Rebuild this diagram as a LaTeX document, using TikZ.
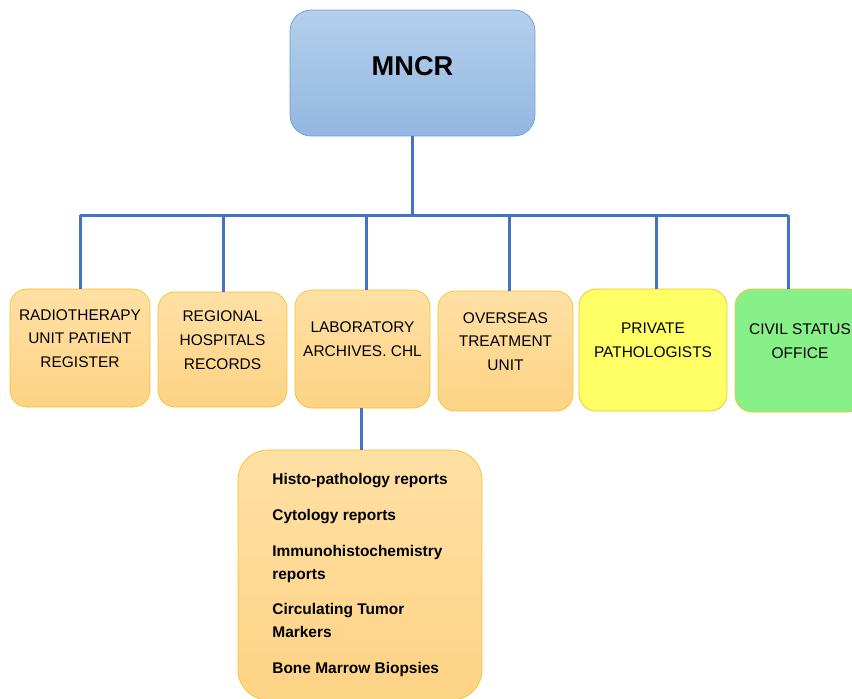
\documentclass[tikz,border=0pt]{standalone}
\usepackage{fontspec}
\setmainfont{Liberation Sans}
\usetikzlibrary{positioning}
\definecolor{BusBlue}{RGB}{68,114,196}
\definecolor{TopEdge}{RGB}{105,155,215}
\definecolor{TopFillA}{RGB}{180,207,235}
\definecolor{TopFillB}{RGB}{147,183,226}
\definecolor{SrcEdge}{RGB}{246,192,40}
\definecolor{SrcFillA}{RGB}{255,224,164}
\definecolor{SrcFillB}{RGB}{253,211,132}
\definecolor{PrivFill}{RGB}{255,255,102}
\definecolor{CivilFill}{RGB}{136,240,136}

\begin{document}
\begin{tikzpicture}[
        x=0.02cm, y=-0.02cm,
        topbox/.style={
            rectangle,
            rounded corners=0.42cm,
            draw=TopEdge,
            top color=TopFillA,
            bottom color=TopFillB,
            minimum width=4.9cm,
            minimum height=2.52cm,
            text depth=0.28cm,
            font=\fontsize{15.5}{18}\selectfont\bfseries
        },
        srcbox/.style={
            rectangle,
            rounded corners=0.34cm,
            draw=SrcEdge,
            top color=SrcFillA,
            bottom color=SrcFillB,
            align=center,
            minimum height=2.36cm,
            text depth=0.38cm,
            font=\fontsize{8.8}{13.6}\selectfont
        },
        listbox/.style={
            rectangle,
            rounded corners=0.6cm,
            draw=SrcEdge,
            top color=SrcFillA,
            bottom color=SrcFillB,
            align=left,
            minimum width=4.88cm,
            minimum height=5cm,
            font=\fontsize{8.8}{13}\selectfont\bfseries
        },
        bus/.style={BusBlue, line width=0.06cm}
    ]

    \useasboundingbox (0,0) rectangle (852,698);

    % Registro central
    \node[topbox] (mncr) at (412.5,73) {MNCR};

    % Fuentes
    \node[srcbox, minimum width=2.8cm] (radio) at (80,348) {RADIOTHERAPY\\UNIT PATIENT\\REGISTER};
    \node[srcbox, minimum width=2.58cm, minimum height=2.3cm] (regional) at (222.5,349.5) {REGIONAL\\HOSPITALS\\RECORDS};
    \node[srcbox, minimum width=2.7cm] (lab) at (362.5,349) {LABORATORY\\ARCHIVES. CHL};
    \node[srcbox, minimum width=2.7cm, minimum height=2.4cm] (overseas) at (505.5,351) {OVERSEAS\\TREATMENT\\UNIT};
    \node[srcbox, fill=PrivFill, top color=PrivFill, bottom color=PrivFill, minimum width=2.96cm, minimum height=2.44cm] (private) at (653,350) {PRIVATE\\PATHOLOGISTS};
    \node[srcbox, top color=CivilFill, bottom color=CivilFill, minimum width=2.6cm, minimum height=2.46cm] (civil) at (800,350.5) {CIVIL STATUS\\OFFICE};

    % Informes del laboratorio
    \node[listbox] (reports) at (360,575) {Histo-pathology reports\\[7.4pt]
        Cytology reports\\[7.4pt]
        Immunohistochemistry\\reports\\[7.4pt]
        Circulating Tumor\\Markers\\[7.4pt]
        Bone Marrow Biopsies};

    % Conectores
    \coordinate (hub) at (412,215);
    \coordinate (b1) at (80,215);
    \coordinate (b2) at (223,215);
    \coordinate (b3) at (366,215);
    \coordinate (b4) at (509,215);
    \coordinate (b5) at (656,215);
    \coordinate (b6) at (788,215);

    \draw[bus] (mncr.south -| hub) -- (hub);
    \draw[bus] (b1) -- (b6);
    \draw[bus] (b1) -- (b1 |- radio.north);
    \draw[bus] (b2) -- (b2 |- regional.north);
    \draw[bus] (b3) -- (b3 |- lab.north);
    \draw[bus] (b4) -- (b4 |- overseas.north);
    \draw[bus] (b5) -- (b5 |- private.north);
    \draw[bus] (b6) -- (b6 |- civil.north);
    \draw[bus] ([xshift=-0.03cm]lab.south) -- ([xshift=-0.03cm]lab.south |- reports.north);

\end{tikzpicture}
\end{document}
